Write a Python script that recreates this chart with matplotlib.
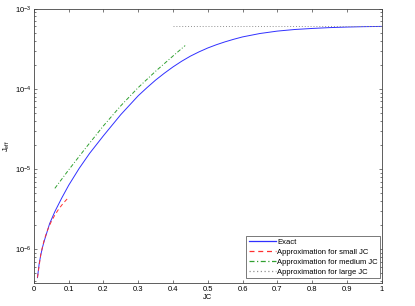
import matplotlib
matplotlib.use("Agg")
import matplotlib.pyplot as plt
from matplotlib.lines import Line2D
from matplotlib.ticker import LogLocator, MultipleLocator, NullFormatter

plt.rcParams['font.family'] = ['Liberation Sans', 'DejaVu Sans']
plt.rcParams['font.size'] = 5.5

# exact curve
jc_exact = [0.01, 0.015, 0.02, 0.025, 0.03, 0.045, 0.06, 0.08, 0.1, 0.13,
            0.16, 0.2, 0.25, 0.3, 0.325, 0.35, 0.375, 0.4, 0.425, 0.45,
            0.475, 0.5, 0.525, 0.55, 0.575, 0.6, 0.65, 0.7, 0.75, 0.8,
            0.85, 0.9, 0.95, 1.0]
j_exact = [4.43e-7, 6.65e-7, 8.7e-7, 1.08e-6, 1.29e-6, 2.09e-6, 2.95e-6,
           4.37e-6, 6.3e-6, 1.02e-5, 1.57e-5, 2.61e-5, 4.79e-5, 8.22e-5,
           1.035e-4, 1.288e-4, 1.567e-4, 1.879e-4, 2.213e-4, 2.559e-4,
           2.897e-4, 3.236e-4, 3.556e-4, 3.864e-4, 4.159e-4, 4.446e-4,
           4.903e-4, 5.254e-4, 5.502e-4, 5.669e-4, 5.808e-4, 5.902e-4,
           5.970e-4, 6.012e-4]

# small JC approximation
jc_small = [0.01, 0.02, 0.03, 0.04, 0.05, 0.06, 0.07, 0.08, 0.09, 0.1]
j_small = [4.45e-7, 8.9e-7, 1.34e-6, 1.78e-6, 2.23e-6, 2.67e-6, 3.12e-6,
           3.56e-6, 4.0e-6, 4.45e-6]

# medium JC approximation
jc_medium = [0.06, 0.1, 0.15, 0.2, 0.25, 0.3, 0.35, 0.4, 0.435]
j_medium = [5.75e-6, 9.8e-6, 1.86e-5, 3.47e-5, 6.17e-5, 1.04e-4, 1.66e-4,
            2.57e-4, 3.47e-4]

# large JC approximation
jc_large = [0.4, 1.0]
j_large = [6.15e-4, 6.15e-4]

labels = ["Exact", "Approximation for small JC",
          "Approximation for medium JC", "Approximation for large JC"]

colors = ['#3030ff', '#ff3030', '#30a030', '#909090']
dash_styles = [None, (4, 3), (4, 2, 1, 2), (1, 2)]

fig = plt.figure(figsize=(4.15, 3.06), dpi=100)
ax = fig.add_axes([0.0819, 0.0752, 0.8374, 0.8964])

lw = 0.7
series = [(jc_exact, j_exact), (jc_small, j_small),
          (jc_medium, j_medium), (jc_large, j_large)]
handles = []
for (xs, ys), c, d, lab in zip(series, colors, dash_styles, labels):
    line, = ax.semilogy(xs, ys, color=c, lw=lw)
    if d is not None:
        line.set_dashes(d)
    proxy = Line2D([], [], color=c, lw=0.9, label=lab)
    if d is not None:
        proxy.set_dashes(d)
    handles.append(proxy)

ax.set_xlim(0, 1)
ax.set_ylim(3.8e-7, 1e-3)
ax.xaxis.set_major_locator(MultipleLocator(0.1))
ax.xaxis.set_major_formatter(plt.FuncFormatter(lambda v, p: f"{v:g}"))
ax.yaxis.set_major_locator(LogLocator(base=10))
ax.yaxis.set_minor_locator(LogLocator(base=10, subs=range(2, 10)))
ax.yaxis.set_minor_formatter(NullFormatter())

ax.tick_params(which='both', direction='in', top=True, right=True,
               color='#444444', width=0.5, pad=2)
ax.tick_params(which='major', length=2.5)
ax.tick_params(which='minor', length=1.5)
for spine in ax.spines.values():
    spine.set_color('#444444')
    spine.set_linewidth(0.6)

ax.set_xlabel("JC", labelpad=1)
ax.set_ylabel(r"$\mathregular{J_{eff}}$", labelpad=2)

leg = ax.legend(handles=handles, loc='lower right',
                bbox_to_anchor=(0.996, 0.018),
                borderaxespad=0, fancybox=False, framealpha=1,
                edgecolor='#444444', handlelength=3.6, handletextpad=0.15,
                labelspacing=0.35, borderpad=0.3)
leg.get_frame().set_linewidth(0.5)

fig.savefig("out.png", dpi=100)
